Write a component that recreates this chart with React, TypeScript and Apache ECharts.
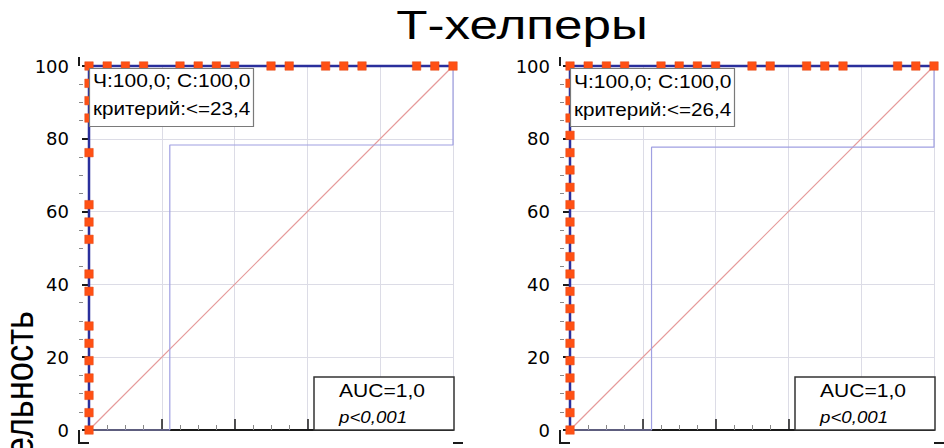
import React, { useEffect, useRef } from "react";
import * as echarts from "echarts";

// ---------- data ----------
const titleText = "Т-хелперы";
const yAxisName = "Чувствительность";

// sensitivity values of ROC points lying on 100-specificity = 0
const leftSensAtZero = [0, 4.76, 9.52, 14.29, 19.05, 23.81, 28.57, 38.1, 42.86, 52.38, 57.14, 61.9, 76.19, 85.71, 90.48, 95.24, 100];
// 100-specificity values of ROC points lying on sensitivity = 100
const leftFprAtFull = [5, 10, 15, 25, 30, 35, 40, 50, 55, 65, 70, 75, 90, 95, 100];
const rightSensAtZero = [0, 4.76, 9.52, 14.29, 19.05, 23.81, 28.57, 33.33, 38.1, 42.86, 47.62, 52.38, 57.14, 61.9, 66.67, 71.43, 76.19, 80.95, 85.71, 90.48, 95.24, 100];
const rightFprAtFull = [5, 10, 15, 25, 30, 35, 40, 50, 55, 65, 70, 75, 90, 95, 100];

// lower confidence bound (thin line)
const leftCiX = [0, 22.2, 22.2, 100, 100];
const leftCiY = [0, 0, 78.3, 78.3, 100];
const rightCiX = [0, 22.4, 22.4, 100, 100];
const rightCiY = [0, 0, 77.7, 77.7, 100];

// reference diagonal
const diagX = [0, 100];
const diagY = [0, 100];

const leftInfo = ["Ч:100,0; С:100,0", "критерий:<=23,4"];
const rightInfo = ["Ч:100,0; С:100,0", "критерий:<=26,4"];
const aucText = ["AUC=1,0", "p<0,001"];

// ---------- styles / layout ----------
const GRID_TOP = 66;
const GRID_SIZE = 364;
const GRID_LEFTS = [89, 570];
const ROC_COLOR = "#2a2f9c";
const MARKER_COLOR = "#ff5014";
const CI_COLOR = "#a0a0e2";
const DIAG_COLOR = "#e69a9a";
const GRID_LINE = "#dcdce6";
const AXIS_COLOR = "#1a1a1a";
const TEXT_COLOR = "#000";
const FONT = '"Liberation Sans", Arial, sans-serif';

function rocPoints(sens: number[], fpr: number[]) {
  const pts: number[][] = sens.map((s) => [0, s]);
  fpr.forEach((f) => pts.push([f, 100]));
  return pts;
}
function zipXY(xs: number[], ys: number[]) {
  return xs.map((x, i) => [x, ys[i]]);
}

export default function App() {
  const ref = useRef<HTMLDivElement>(null);
  useEffect(() => {
    if (!ref.current) return;
    const chart = echarts.init(ref.current, undefined, { renderer: "svg" });

    const grids = GRID_LEFTS.map((l) => ({ left: l, top: GRID_TOP, width: GRID_SIZE, height: GRID_SIZE }));
    const xAxes: any[] = [];
    const yAxes: any[] = [];
    GRID_LEFTS.forEach((_, gi) => {
      xAxes.push({
        gridIndex: gi,
        type: "value",
        min: 0,
        max: 100,
        interval: 20,
        position: "bottom",
        offset: 13,
        axisLine: { show: true, lineStyle: { color: AXIS_COLOR, width: 2 } },
        axisTick: { show: true, inside: true, length: 11, lineStyle: { color: AXIS_COLOR, width: 1.5 } },
        minorTick: { show: true, splitNumber: 4, length: 5, lineStyle: { color: "#888", width: 1 } },
        axisLabel: { show: false },
        splitLine: { show: true, lineStyle: { color: GRID_LINE, width: 1 } },
      });
      yAxes.push({
        gridIndex: gi,
        type: "value",
        min: 0,
        max: 100,
        interval: 20,
        position: "left",
        offset: 10,
        axisLine: { show: true, lineStyle: { color: AXIS_COLOR, width: 2 } },
        axisTick: { show: true, length: 7, lineStyle: { color: AXIS_COLOR, width: 2 } },
        axisLabel: {
          show: true,
          fontSize: 18,
          fontFamily: "DejaVu Sans",
          color: TEXT_COLOR,
          margin: 10,
        },
        splitLine: { show: true, lineStyle: { color: GRID_LINE, width: 1 } },
      });
      yAxes.push({
        gridIndex: gi,
        type: "value",
        min: 0,
        max: 100,
        interval: 20,
        position: "left",
        offset: 10,
        axisLine: { show: false },
        axisTick: { show: false, inside: true },
        minorTick: { show: true, splitNumber: 4, length: 4, lineStyle: { color: "#888", width: 1 } },
        axisLabel: { show: false },
        splitLine: { show: false },
      });
    });

    const datasets = [
      { roc: rocPoints(leftSensAtZero, leftFprAtFull), ci: zipXY(leftCiX, leftCiY) },
      { roc: rocPoints(rightSensAtZero, rightFprAtFull), ci: zipXY(rightCiX, rightCiY) },
    ];
    const series: any[] = [];
    datasets.forEach((d, gi) => {
      series.push({
        type: "line",
        xAxisIndex: gi,
        yAxisIndex: gi * 2,
        data: zipXY(diagX, diagY),
        symbol: "none",
        clip: false,
        color: DIAG_COLOR,
        itemStyle: { color: DIAG_COLOR },
        lineStyle: { color: DIAG_COLOR, width: 1.2 },
        z: 2,
      });
      series.push({
        type: "line",
        xAxisIndex: gi,
        yAxisIndex: gi * 2,
        data: d.ci,
        symbol: "none",
        clip: false,
        color: CI_COLOR,
        lineStyle: { color: CI_COLOR, width: 1.2 },
        z: 3,
      });
      series.push({
        type: "line",
        xAxisIndex: gi,
        yAxisIndex: gi * 2,
        data: d.roc,
        symbol: "rect",
        symbolSize: 8.5,
        showSymbol: true,
        clip: false,
        color: MARKER_COLOR,
        lineStyle: { color: ROC_COLOR, width: 2.5 },
        itemStyle: { color: MARKER_COLOR, borderColor: "#e04a18", borderWidth: 0.5 },
        z: 4,
      });
    });

    const txt = (x: number, y: number, text: string, size: number, sx: number, italic = false) => ({
      type: "text",
      x,
      y,
      scaleX: sx,
      z: 101,
      style: {
        text,
        font: `${italic ? "italic " : ""}${size}px ${FONT}`,
        fill: TEXT_COLOR,
        align: "left",
        textAlign: "left",
        verticalAlign: "middle",
        textVerticalAlign: "middle",
      },
    });

    const graphic: any[] = [];
    // title
    graphic.push({
      type: "text",
      x: 522,
      y: 25,
      scaleX: 1.28,
      z: 101,
      style: {
        text: titleText,
        font: `40px ${FONT}`,
        fill: TEXT_COLOR,
        align: "center",
        textAlign: "center",
        verticalAlign: "middle",
        textVerticalAlign: "middle",
      },
    });
    // rotated y-axis name (cut by the picture bottom, as in the reference)
    graphic.push({
      type: "group",
      x: 0,
      y: 0,
      scaleX: 1.17,
      children: [
        {
          type: "text",
          x: 16.2,
          y: 311,
          rotation: Math.PI / 2,
          style: {
            text: yAxisName,
            font: `34.5px ${FONT}`,
            fill: TEXT_COLOR,
            align: "right",
            textAlign: "right",
            verticalAlign: "middle",
            textVerticalAlign: "middle",
          },
        },
      ],
    });

    GRID_LEFTS.forEach((gl, gi) => {
      const info = gi === 0 ? leftInfo : rightInfo;
      const axX = gl - 10;
      const axY = GRID_TOP + GRID_SIZE + 13;
      // axis line extensions (corner)
      graphic.push({ type: "line", z: 5, shape: { x1: axX, y1: GRID_TOP - 9, x2: axX, y2: GRID_TOP }, style: { stroke: AXIS_COLOR, lineWidth: 2 } });
      graphic.push({ type: "line", z: 5, shape: { x1: axX, y1: GRID_TOP + GRID_SIZE, x2: axX, y2: axY + 1 }, style: { stroke: AXIS_COLOR, lineWidth: 2 } });
      graphic.push({ type: "line", z: 5, shape: { x1: axX - 1, y1: axY, x2: gl, y2: axY }, style: { stroke: AXIS_COLOR, lineWidth: 2 } });
      graphic.push({ type: "line", z: 5, shape: { x1: gl + GRID_SIZE, y1: axY, x2: gl + GRID_SIZE + 10, y2: axY }, style: { stroke: AXIS_COLOR, lineWidth: 2 } });
      // info box
      graphic.push({
        type: "rect",
        z: 100,
        shape: { x: gl + 0.5, y: 68.5, width: 164, height: 58 },
        style: { fill: "#fff", stroke: "#7a7a7a", lineWidth: 1.2 },
      });
      graphic.push(txt(gl + 4, 81.5 + gi, info[0], 17.5, 1.2));
      graphic.push(txt(gl + 4, 109 + gi, info[1], 17.5, 1.18));
      // AUC box
      graphic.push({
        type: "rect",
        z: 100,
        shape: { x: gl + 225, y: 377, width: 140, height: 53 },
        style: { fill: "#fff", stroke: "#333", lineWidth: 1.5 },
      });
      graphic.push(txt(gl + 250, 391, aucText[0], 18, 1.17));
      graphic.push(txt(gl + 250, 417, aucText[1], 17, 1.1, true));
    });

    chart.setOption({
      animation: false,
      backgroundColor: "#ffffff",
      grid: grids,
      xAxis: xAxes,
      yAxis: yAxes,
      series,
      graphic,
    });
    return () => chart.dispose();
  }, []);
  return <div ref={ref} style={{ position: "absolute", left: 0, top: 0, width: 944, height: 448 }} />;
}
